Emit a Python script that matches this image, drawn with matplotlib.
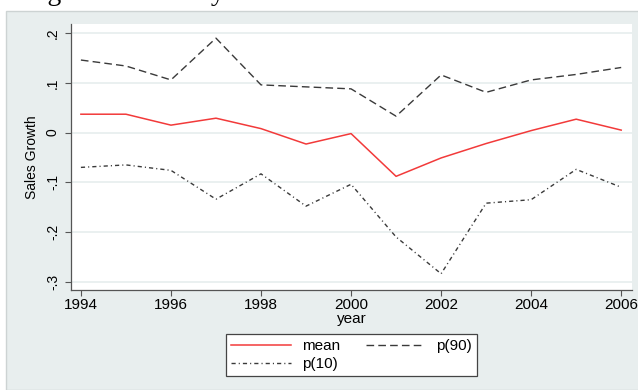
import matplotlib.pyplot as plt
from matplotlib.patches import Rectangle

years = list(range(1994, 2007))
mean_growth = [0.037, 0.037, 0.015, 0.029, 0.008, -0.023, -0.002,
               -0.088, -0.051, -0.022, 0.004, 0.027, 0.005]
p90_growth = [0.146, 0.134, 0.106, 0.190, 0.096, 0.092, 0.088,
              0.033, 0.116, 0.081, 0.106, 0.117, 0.131]
p10_growth = [-0.070, -0.065, -0.076, -0.134, -0.083, -0.148, -0.104,
              -0.210, -0.284, -0.142, -0.135, -0.074, -0.110]

x_ticks = [1994, 1996, 1998, 2000, 2002, 2004, 2006]
y_ticks = [-0.3, -0.2, -0.1, 0.0, 0.1, 0.2]
y_tick_labels = ["-.3", "-.2", "-.1", "0", ".1", ".2"]

W, H = 638, 390
plt.rcParams["font.family"] = ["Liberation Sans", "DejaVu Sans"]

fig = plt.figure(figsize=(W / 100, H / 100), dpi=100, facecolor="white")

# graph region (stata-like light background) below the caption strip
fig.patches.append(Rectangle((6 / W, 0), 1, 1 - 11 / H, transform=fig.transFigure,
                             facecolor="#E8EEEE", edgecolor="#CDD3D3",
                             linewidth=1.0, zorder=-1))
# caption sits mostly above the top edge, only its lower part shows
fig.text(24 / W, 1 + 0.5 / H, "Figure 3: Industry Sales Growth over Time",
         family="Liberation Serif", fontsize=20, va="baseline", ha="left",
         color="black")

ax = fig.add_axes([71 / W, 1 - 290 / H, (632 - 71) / W, (290 - 24) / H])
ax.set_facecolor("white")

ax.plot(years, mean_growth, color="#F23A3A", linewidth=1.1, label="mean")
ax.plot(years, p90_growth, color="#3A3A3A", linewidth=1.0,
        dashes=(5.5, 3.0), label="p(90)")
ax.plot(years, p10_growth, color="#3A3A3A", linewidth=1.0,
        dashes=(3.0, 2.2, 0.8, 2.2), label="p(10)")

ax.set_xlim(1993.78, 2006.24)
ax.set_ylim(-0.3167, 0.2185)
ax.set_xticks(x_ticks)
ax.set_yticks(y_ticks)
ax.set_yticklabels(y_tick_labels, rotation=90, va="center", fontsize=10)
ax.tick_params(axis="x", labelsize=11, pad=2)
ax.tick_params(axis="both", direction="out", length=4, width=0.8,
               color="#555555")
ax.tick_params(axis="y", pad=4)

ax.grid(axis="y", color="#E6EEEE", linewidth=1.2)
ax.set_axisbelow(True)
for side in ("top", "right"):
    ax.spines[side].set_visible(False)
for side in ("left", "bottom"):
    ax.spines[side].set_color("#555555")
    ax.spines[side].set_linewidth(0.9)

ax.set_xlabel("year", fontsize=11, labelpad=0)
ax.set_ylabel("Sales Growth", fontsize=10, labelpad=5)

h, l = ax.get_legend_handles_labels()
order = [0, 2, 1]
leg = fig.legend([h[i] for i in order], [l[i] for i in order], ncol=2,
                 loc="center", bbox_to_anchor=(351.5 / W, 1 - 355 / H),
                 fontsize=11, fancybox=False, framealpha=1, edgecolor="#444444",
                 handlelength=3.9, handletextpad=0.7, columnspacing=1.7,
                 labelspacing=0.25, borderpad=0.35)
leg.get_frame().set_linewidth(0.9)

fig.savefig("out.png", dpi=100, facecolor="white")
plt.close(fig)
